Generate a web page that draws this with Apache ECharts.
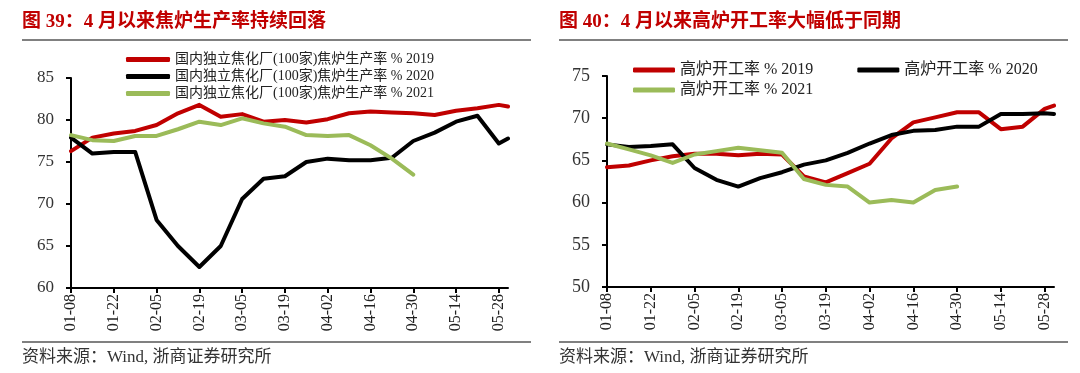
<!DOCTYPE html>
<html><head><meta charset="utf-8">
<script src="https://cdn.jsdelivr.net/npm/echarts@6/dist/echarts.min.js"></script>
<style>html,body{margin:0;padding:0;background:#fff}#c{width:1080px;height:373px}</style>
</head><body><div id="c"></div>
<script>
// ---- data ----
const dates = ['01-08','01-15','01-22','01-29','02-05','02-12','02-19','02-26','03-05','03-12','03-19','03-26','04-02','04-09','04-16','04-23','04-30','05-07','05-14','05-21','05-28','05-31'];
const tickLabels = ['01-08','01-22','02-05','02-19','03-05','03-19','04-02','04-16','04-30','05-14','05-28'];

const cokeNames = ['国内独立焦化厂(100家)焦炉生产率 % 2019','国内独立焦化厂(100家)焦炉生产率 % 2020','国内独立焦化厂(100家)焦炉生产率 % 2021'];
const coke2019 = [76.3,77.9,78.4,78.7,79.4,80.8,81.8,80.4,80.7,79.8,80.0,79.7,80.1,80.8,81.0,80.9,80.8,80.6,81.1,81.4,81.8,81.6];
const coke2020 = [77.9,76.0,76.2,76.2,68.1,65.0,62.5,65.0,70.6,73.0,73.3,75.0,75.4,75.2,75.2,75.5,77.5,78.5,79.8,80.5,77.2,77.8];
const coke2021 = [78.2,77.6,77.5,78.1,78.1,78.9,79.8,79.4,80.2,79.6,79.2,78.2,78.1,78.2,77.0,75.4,73.5];

const bfNames = ['高炉开工率 % 2019','高炉开工率 % 2020','高炉开工率 % 2021'];
const bf2019 = [64.2,64.4,65.0,65.5,65.8,65.8,65.6,65.8,65.7,63.1,62.4,63.5,64.6,67.6,69.5,70.1,70.7,70.7,68.7,69.0,71.1,71.5];
const bf2020 = [66.9,66.6,66.7,66.9,64.1,62.7,61.9,62.9,63.6,64.5,65.0,65.9,67.0,68.0,68.5,68.6,69.0,69.0,70.5,70.5,70.6,70.5];
const bf2021 = [67.0,66.3,65.6,64.7,65.7,66.1,66.5,66.2,65.9,62.8,62.1,61.9,60.0,60.3,60.0,61.5,61.9];

const colors = ['#c00000','#000000','#9bbb59'];

// ---- build ----
const serif = "'Liberation Serif','Times New Roman','Noto Sans CJK SC',serif";
const dayOffset = s => { const [m,d] = s.split('-').map(Number); return (Date.UTC(2019,m-1,d) - Date.UTC(2019,0,8)) / 86400000; };
const xs = dates.map(dayOffset);
const tickVals = tickLabels.map(dayOffset);
const pts = arr => arr.map((v,i) => [xs[i], v]);

function xAx(gi){
  return {type:'value', gridIndex:gi, min:0, max:xs[xs.length-1],
    axisLine:{show:true, onZero:false, lineStyle:{color:'#000', width:2}},
    axisTick:{show:true, customValues:tickVals, length:5, lineStyle:{color:'#000', width:2}},
    axisLabel:{customValues:tickVals, formatter:v => { const i = tickVals.indexOf(v); return i >= 0 ? tickLabels[i] : ''; },
      rotate:90, fontFamily:serif, fontSize:16, color:'#222', margin:6},
    splitLine:{show:false}};
}
function yAx(gi, mn, mx, fs){
  return {type:'value', gridIndex:gi, min:mn, max:mx, interval:5,
    axisLine:{show:true, lineStyle:{color:'#000', width:2}},
    axisTick:{show:true, length:5, lineStyle:{color:'#000', width:2}},
    axisLabel:{fontFamily:serif, fontSize:fs, color:'#333', margin:17},
    splitLine:{show:false}};
}
function ser(name, arr, ci, gi){
  return {type:'line', name, data:pts(arr), xAxisIndex:gi, yAxisIndex:gi, symbol:'none', smooth:false,
    color:colors[ci], lineStyle:{width:4, color:colors[ci], join:'round', cap:'round'}};
}

const chart = echarts.init(document.getElementById('c'), null, {renderer:'canvas'});
chart.setOption({
  animation:false,
  backgroundColor:'#fff',
  grid:[
    {left:71, top:78, width:437, height:210},
    {left:607, top:76, width:447, height:211}
  ],
  xAxis:[xAx(0), xAx(1)],
  yAxis:[yAx(0,60,85,17), yAx(1,50,75,18)],
  legend:[
    {data:cokeNames, orient:'vertical', left:126, top:51, padding:0, itemGap:0, itemWidth:44, itemHeight:5, icon:'roundRect',
      textStyle:{fontFamily:serif, fontSize:14, color:'#222', lineHeight:17}},
    {data:[bfNames[0], bfNames[1]], orient:'horizontal', left:633, top:60, padding:0, itemGap:44, itemWidth:42, itemHeight:5, icon:'roundRect',
      textStyle:{fontFamily:serif, fontSize:16, color:'#222', lineHeight:20}},
    {data:[bfNames[2]], orient:'horizontal', left:633, top:80, padding:0, itemWidth:42, itemHeight:5, icon:'roundRect',
      textStyle:{fontFamily:serif, fontSize:16, color:'#222', lineHeight:20}}
  ],
  series:[
    ser(cokeNames[0], coke2019, 0, 0),
    ser(cokeNames[1], coke2020, 1, 0),
    ser(cokeNames[2], coke2021, 2, 0),
    ser(bfNames[0], bf2019, 0, 1),
    ser(bfNames[1], bf2020, 1, 1),
    ser(bfNames[2], bf2021, 2, 1)
  ],
  graphic:[
    {type:'text', left:22, top:13, style:{text:'图 39：4 月以来焦炉生产率持续回落', font:'bold 19px ' + serif, fill:'#c00000'}},
    {type:'text', left:559, top:13, style:{text:'图 40：4 月以来高炉开工率大幅低于同期', font:'bold 19px ' + serif, fill:'#c00000'}},
    {type:'line', shape:{x1:22, y1:40, x2:531, y2:40}, style:{stroke:'#808080', lineWidth:2}},
    {type:'line', shape:{x1:559, y1:40, x2:1068, y2:40}, style:{stroke:'#808080', lineWidth:2}},
    {type:'line', shape:{x1:22, y1:342, x2:531, y2:342}, style:{stroke:'#808080', lineWidth:2}},
    {type:'line', shape:{x1:559, y1:342, x2:1068, y2:342}, style:{stroke:'#808080', lineWidth:2}},
    {type:'text', left:22, top:349, style:{text:'资料来源：Wind, 浙商证券研究所', font:'17px ' + serif, fill:'#333'}},
    {type:'text', left:559, top:349, style:{text:'资料来源：Wind, 浙商证券研究所', font:'17px ' + serif, fill:'#333'}}
  ]
});
</script>
</body></html>
